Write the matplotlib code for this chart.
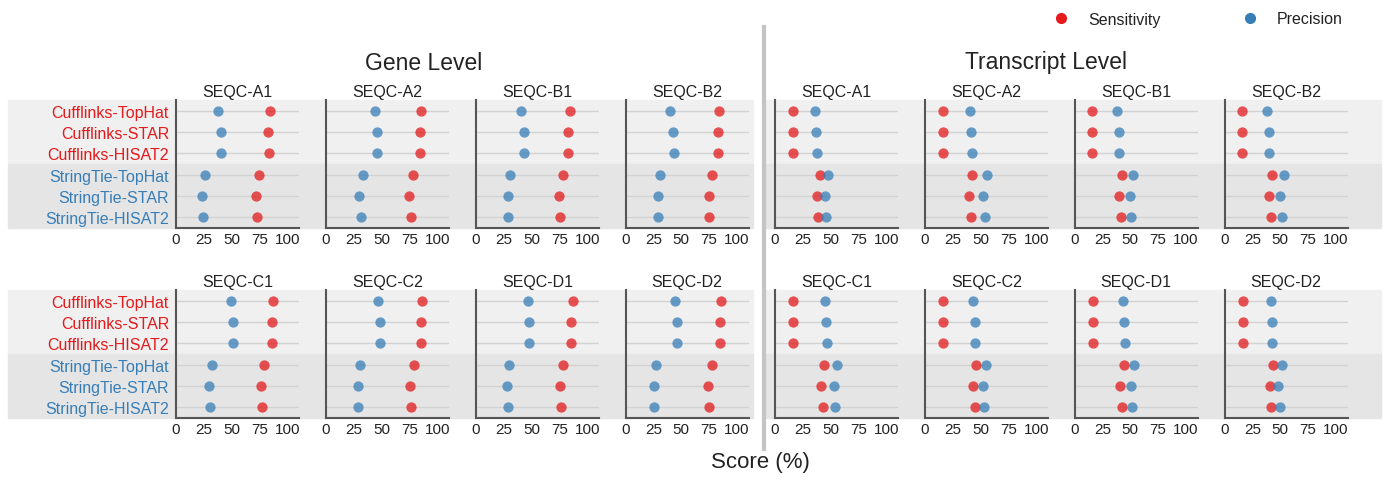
import numpy as np
import matplotlib.pyplot as plt
import matplotlib.patches as patches
from matplotlib.lines import Line2D

plt.rcParams['font.family'] = ['Liberation Sans', 'DejaVu Sans']

methods = ['Cufflinks-TopHat', 'Cufflinks-STAR', 'Cufflinks-HISAT2',
           'StringTie-TopHat', 'StringTie-STAR', 'StringTie-HISAT2']
method_colors = ['#e41a1c'] * 3 + ['#377eb8'] * 3
samples_top = ['SEQC-A1', 'SEQC-A2', 'SEQC-B1', 'SEQC-B2']
samples_bot = ['SEQC-C1', 'SEQC-C2', 'SEQC-D1', 'SEQC-D2']

# sensitivity / precision per sample, rows in the order of `methods`
gene_sens = {
    'SEQC-A1': [84, 83, 83.5, 75, 72, 73],
    'SEQC-A2': [85, 84, 84, 78, 75, 76],
    'SEQC-B1': [84, 83, 83, 78, 75, 75.4],
    'SEQC-B2': [84, 83, 83.5, 78, 74.8, 75.4],
    'SEQC-C1': [87, 86, 86, 79, 76.6, 77],
    'SEQC-C2': [86.5, 85, 85, 79, 75.7, 76.6],
    'SEQC-D1': [87, 85, 85.6, 78.4, 75.4, 76],
    'SEQC-D2': [86, 84.7, 85, 77.8, 74.5, 75.4],
}
gene_prec = {
    'SEQC-A1': [38, 40, 40, 26, 23.5, 24],
    'SEQC-A2': [44.4, 45.6, 46, 33, 30, 31],
    'SEQC-B1': [40.5, 43, 43, 30.6, 28.5, 29],
    'SEQC-B2': [40, 43, 43.5, 31, 29, 29.5],
    'SEQC-C1': [49, 51, 51, 32, 30, 30.3],
    'SEQC-C2': [46.5, 48.6, 48.3, 30.6, 28.5, 29],
    'SEQC-D1': [46.5, 48, 48, 29.7, 28, 28.5],
    'SEQC-D2': [44.4, 46, 46, 27.3, 25.5, 25.8],
}
tx_sens = {
    'SEQC-A1': [16, 16, 16, 40, 38, 39],
    'SEQC-A2': [16, 16, 16, 42, 39.3, 41],
    'SEQC-B1': [16, 16, 16, 43, 39.6, 41.4],
    'SEQC-B2': [16, 16, 16, 43, 40, 41.7],
    'SEQC-C1': [16, 16.5, 16.2, 44.4, 41.7, 43],
    'SEQC-C2': [16.5, 16.5, 16.5, 46, 43, 44.7],
    'SEQC-D1': [16.2, 16.2, 16.2, 44.4, 41, 43],
    'SEQC-D2': [16.2, 16.2, 16.2, 43.5, 40.5, 42],
}
tx_prec = {
    'SEQC-A1': [36, 37, 37.5, 48, 45, 46],
    'SEQC-A2': [40.5, 41.7, 42.6, 55.5, 52, 53.5],
    'SEQC-B1': [38, 40, 40, 53, 50, 51],
    'SEQC-B2': [38, 39.6, 40, 53.5, 50, 51.6],
    'SEQC-C1': [45.3, 46, 46.8, 55.5, 52.8, 54],
    'SEQC-C2': [43.5, 45, 45, 54.7, 52, 53],
    'SEQC-D1': [43.5, 44.7, 45, 53.7, 50.4, 52],
    'SEQC-D2': [41.4, 42.3, 43, 51.3, 48.3, 49.5],
}

SENS_COLOR = '#e41a1c'
PREC_COLOR = '#377eb8'

W, H = 1387, 481
fig = plt.figure(figsize=(W / 100, H / 100), dpi=100)


def fx(px):
    return px / W


def fy(py):
    return 1 - py / H


# shaded row bands behind the panels
for top, bot in [(101, 229), (291, 419)]:
    mid = (top + bot) / 2
    for x0, x1 in [(8, 753), (766, 1381)]:
        fig.patches.append(patches.Rectangle((fx(x0), fy(mid)), fx(x1 - x0), (mid - top) / H,
                                             transform=fig.transFigure, color='#f0f0f0', zorder=-2))
        fig.patches.append(patches.Rectangle((fx(x0), fy(bot)), fx(x1 - x0), (bot - mid) / H,
                                             transform=fig.transFigure, color='#e5e5e5', zorder=-2))

gene_x = [176, 326, 476, 625.5]
tx_x = [775, 925, 1074.5, 1224.5]
panel_w = 123
rows = [(101, 229, samples_top), (291, 419, samples_bot)]
ypos = np.arange(len(methods))[::-1]


def draw_panel(ax, sens, prec, show_labels):
    ax.set_facecolor('none')
    for y in ypos:
        ax.axhline(y, color='#d2d2d2', lw=1, zorder=1)
    ax.scatter(sens, ypos, s=55, color=SENS_COLOR, alpha=0.75, lw=0, zorder=3)
    ax.scatter(prec, ypos, s=55, color=PREC_COLOR, alpha=0.75, lw=0, zorder=3)
    ax.set_xlim(0, 110.5)
    ax.set_ylim(-0.5, 5.5)
    ax.set_xticks([0, 25, 50, 75, 100])
    ax.set_yticks(ypos)
    if show_labels:
        ax.set_yticklabels(methods, fontsize=11.5)
        for lab, c in zip(ax.get_yticklabels(), method_colors):
            lab.set_color(c)
    else:
        ax.set_yticklabels([])
    ax.tick_params(axis='both', length=0, colors='#222222')
    ax.tick_params(axis='x', labelsize=11, pad=3)
    ax.tick_params(axis='y', pad=5)
    for lab, c in zip(ax.get_yticklabels(), method_colors):
        lab.set_color(c)
    for s in ['top', 'right']:
        ax.spines[s].set_visible(False)
    for s in ['left', 'bottom']:
        ax.spines[s].set_color('#555555')
        ax.spines[s].set_linewidth(1.5)


for top, bot, samples in rows:
    for i, smp in enumerate(samples):
        for xs, sens_d, prec_d in [(gene_x, gene_sens, gene_prec), (tx_x, tx_sens, tx_prec)]:
            ax = fig.add_axes([fx(xs[i]), fy(bot), fx(panel_w), (bot - top) / H])
            draw_panel(ax, sens_d[smp], prec_d[smp], show_labels=(xs is gene_x and i == 0))
            ax.set_title(smp, fontsize=11.5, color='#222222', pad=3)

# divider between gene and transcript level
fig.add_artist(Line2D([fx(764), fx(764)], [fy(28), fy(450)], transform=fig.transFigure,
                      color='#c4c4c4', lw=3))

fig.text(fx(424), fy(63), 'Gene Level', ha='center', va='center', fontsize=16.5, color='#222222')
fig.text(fx(1046), fy(63), 'Transcript Level', ha='center', va='center', fontsize=16.5, color='#222222')
fig.text(fx(760), fy(463), 'Score (%)', ha='center', va='center', fontsize=16, color='#222222')

handles = [Line2D([], [], marker='o', ls='', color=SENS_COLOR, markersize=7),
           Line2D([], [], marker='o', ls='', color=PREC_COLOR, markersize=7)]
fig.legend(handles, ['Sensitivity', 'Precision'], ncol=2, frameon=False, fontsize=11.5,
           loc='center', bbox_to_anchor=(fx(1194), fy(20)), handletextpad=0.7,
           columnspacing=4.6, labelcolor='#222222')

fig.savefig('out.png', dpi=100)
